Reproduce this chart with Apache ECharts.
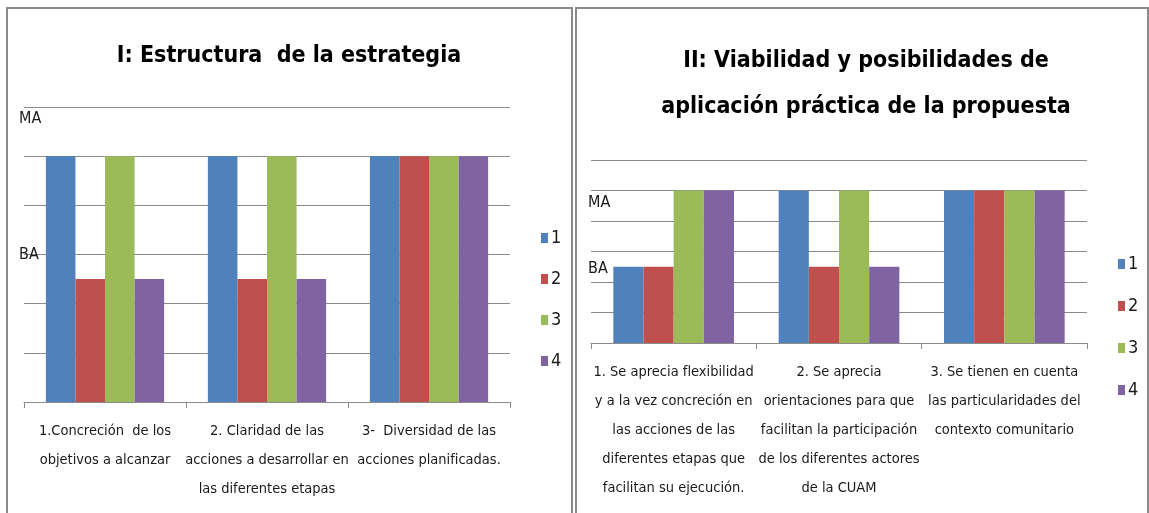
<!DOCTYPE html>
<html lang="es">

<head>
    <meta charset="UTF-8">
    <title>index</title>
    <script src="https://cdn.jsdelivr.net/npm/echarts@6/dist/echarts.min.js"></script>
    <style>
        html, body { margin: 0; padding: 0; background: #fff; }
    </style>
</head>

<body>
    <div id="main" style="width:1149px;height:513px"></div>
    <script>
        var mCharts = echarts.init(document.getElementById('main'))

        // datos
        var seriesNames = ['1', '2', '3', '4'];
        var colors = ['#4f81bd', '#c0504d', '#9bbb59', '#8064a2'];

        var catsLeft = [
            '1.Concreción  de los\nobjetivos a alcanzar',
            '2. Claridad de las\nacciones a desarrollar en\nlas diferentes etapas',
            '3-  Diversidad de las\nacciones planificadas.'
        ];
        var valuesLeft = [
            [5, 5, 5],
            [2.5, 2.5, 5],
            [5, 5, 5],
            [2.5, 2.5, 5]
        ];

        var catsRight = [
            '1. Se aprecia flexibilidad\ny a la vez concreción en\nlas acciones de las\ndiferentes etapas que\nfacilitan su ejecución.',
            '2. Se aprecia\norientaciones para que\nfacilitan la participación\nde los diferentes actores\nde la CUAM',
            '3. Se tienen en cuenta\nlas particularidades del\ncontexto comunitario'
        ];
        var valuesRight = [
            [2.5, 5, 5],
            [2.5, 2.5, 5],
            [5, 5, 5],
            [5, 2.5, 5]
        ];

        // etiquetas del eje Y: valor -> texto
        var yLabelsLeft = { 6: 'MA', 3: 'BA' };
        var yLabelsRight = { 5: 'MA', 3: 'BA' };

        var font = "'DejaVu Sans Condensed', 'DejaVu Sans', sans-serif";
        var gray = '#8a8a8a';

        function yAxisCfg(gridIndex, labels, margin) {
            return {
                type: 'value',
                gridIndex: gridIndex,
                min: 0,
                max: 6,
                interval: 1,
                axisLine: { show: false },
                axisTick: { show: false },
                splitLine: { lineStyle: { color: gray, width: 1 } },
                axisLabel: {
                    align: 'left',
                    margin: margin,
                    formatter: function (v) {
                        if (!labels[v]) return '';
                        return '{' + labels[v].toLowerCase() + (gridIndex) + '|' + labels[v] + '}';
                    },
                    rich: {
                        ma0: { fontSize: 16, fontFamily: font, color: '#1a1a1a', padding: [24, 0, 0, 0] },
                        ba0: { fontSize: 16, fontFamily: font, color: '#1a1a1a' },
                        ma1: { fontSize: 16, fontFamily: font, color: '#1a1a1a', padding: [24, 0, 0, 0] },
                        ba1: { fontSize: 16, fontFamily: font, color: '#1a1a1a', padding: [34, 0, 0, 0] }
                    }
                }
            };
        }

        function xAxisCfg(gridIndex, cats) {
            return {
                type: 'category',
                gridIndex: gridIndex,
                data: cats,
                axisLine: { lineStyle: { color: gray, width: 1 } },
                axisTick: { show: true, length: 6, lineStyle: { color: gray } },
                axisLabel: {
                    interval: 0,
                    margin: 15,
                    fontSize: 14.5,
                    lineHeight: 29,
                    fontFamily: font,
                    color: '#1a1a1a'
                }
            };
        }

        var seriesArr = [];
        seriesNames.forEach(function (name, i) {
            seriesArr.push({
                name: name,
                type: 'bar',
                xAxisIndex: 0,
                yAxisIndex: 0,
                barGap: '0%',
                barCategoryGap: '27%',
                itemStyle: { color: colors[i] },
                data: valuesLeft[i]
            });
        });
        seriesNames.forEach(function (name, i) {
            seriesArr.push({
                name: name,
                type: 'bar',
                xAxisIndex: 1,
                yAxisIndex: 1,
                barGap: '0%',
                barCategoryGap: '27%',
                itemStyle: { color: colors[i] },
                data: valuesRight[i]
            });
        });

        var legendBase = {
            orient: 'vertical',
            data: seriesNames,
            icon: 'rect',
            itemWidth: 7,
            itemHeight: 10,
            itemGap: 21,
            selectedMode: false,
            textStyle: { fontSize: 18, fontFamily: font, color: '#1a1a1a', lineHeight: 20, padding: [0, 0, 0, -2] }
        };

        option = {
            backgroundColor: '#fff',
            animation: false,
            color: colors,
            title: [
                {
                    text: 'I: Estructura  de la estrategia',
                    left: 284,
                    top: 40,
                    textAlign: 'center',
                    textStyle: { fontSize: 23, fontWeight: 'bold', fontFamily: font, color: '#000' }
                },
                {
                    text: 'II: Viabilidad y posibilidades de\naplicación práctica de la propuesta',
                    left: 861,
                    top: 33,
                    textAlign: 'center',
                    textStyle: { fontSize: 23, fontWeight: 'bold', fontFamily: font, color: '#000', lineHeight: 46 }
                }
            ],
            legend: [
                Object.assign({}, legendBase, { left: 536, top: 223 }),
                Object.assign({}, legendBase, { left: 1113, top: 249, itemGap: 22 })
            ],
            grid: [
                { left: 24, top: 107, width: 486, height: 295 },
                { left: 591, top: 160, width: 496, height: 183 }
            ],
            xAxis: [xAxisCfg(0, catsLeft), xAxisCfg(1, catsRight)],
            yAxis: [yAxisCfg(0, yLabelsLeft, 5), yAxisCfg(1, yLabelsRight, 3)],
            series: seriesArr,
            graphic: [
                {
                    type: 'rect', silent: true, z: 100,
                    shape: { x: 7, y: 8, width: 565, height: 512 },
                    style: { fill: 'none', stroke: gray, lineWidth: 2 }
                },
                {
                    type: 'rect', silent: true, z: 100,
                    shape: { x: 576, y: 8, width: 572, height: 512 },
                    style: { fill: 'none', stroke: gray, lineWidth: 2 }
                }
            ]
        };

        mCharts.setOption(option)
    </script>
</body>

</html>
